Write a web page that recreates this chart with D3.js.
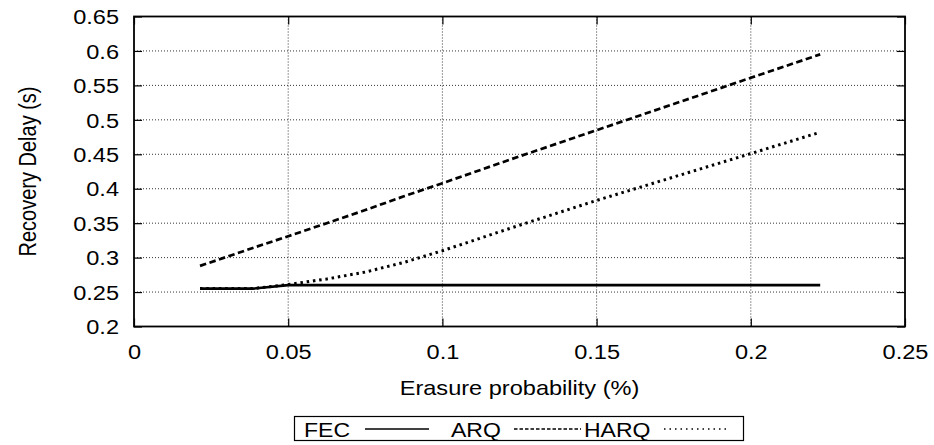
<!DOCTYPE html>
<html>
<head>
<meta charset="utf-8">
<script src="https://cdn.jsdelivr.net/npm/d3@7"></script>
<style>
    body { margin: 0; background: #fff; }
    text { font-family: "Liberation Sans", Arial, sans-serif; }
</style>
</head>
<body>
<svg id="chart" width="934" height="445"></svg>
<script>
//Datos
let erasure = [0.0214, 0.03, 0.0385, 0.05, 0.0625, 0.075, 0.0875, 0.1, 0.125, 0.15, 0.175, 0.2, 0.2225];
let fecDelay = [0.255, 0.255, 0.255, 0.26, 0.26, 0.26, 0.26, 0.26, 0.26, 0.26, 0.26, 0.26, 0.26];
let arqDelay = [0.288, 0.301, 0.314, 0.331, 0.35, 0.369, 0.389, 0.408, 0.447, 0.485, 0.523, 0.561, 0.595];
let harqDelay = [0.255, 0.255, 0.255, 0.261, 0.269, 0.279, 0.293, 0.31, 0.347, 0.383, 0.417, 0.451, 0.482];
let xTicks = [0, 0.05, 0.1, 0.15, 0.2, 0.25];
let yTicks = [0.2, 0.25, 0.3, 0.35, 0.4, 0.45, 0.5, 0.55, 0.6, 0.65];
let seriesNames = ['FEC', 'ARQ', 'HARQ'];

let series = [
    {name: seriesNames[0], values: fecDelay, dash: null, legendDash: null},
    {name: seriesNames[1], values: arqDelay, dash: '6.5,3.5', legendDash: '3.5,2'},
    {name: seriesNames[2], values: harqDelay, dash: '2.5,3.8', legendDash: '1.5,4'}
];

//Texto un poco ensanchado, como en la figura original
let sx = 1.15;
let fontSize = 20.5;

//Dimensiones
let margin = {top: 16.5, right: 29, bottom: 118.5, left: 134};
let width = 934 - margin.left - margin.right;
let height = 445 - margin.top - margin.bottom;

let svg = d3.select('#chart');
let g = svg.append('g').attr('transform', 'translate(' + margin.left + ',' + margin.top + ')');

let x = d3.scaleLinear().domain([0, 0.25]).range([0, width]);
let y = d3.scaleLinear().domain([0.2, 0.65]).range([height, 0]);

//Rejilla
g.append('g')
    .selectAll('line')
    .data(xTicks.slice(1, -1))
    .enter()
    .append('line')
    .attr('x1', d => x(d)).attr('x2', d => x(d))
    .attr('y1', 0).attr('y2', height)
    .attr('stroke', '#333')
    .attr('stroke-width', 1)
    .attr('stroke-dasharray', '1,2');

g.append('g')
    .selectAll('line')
    .data(yTicks.slice(1, -1))
    .enter()
    .append('line')
    .attr('x1', 0).attr('x2', width)
    .attr('y1', d => y(d)).attr('y2', d => y(d))
    .attr('stroke', '#333')
    .attr('stroke-width', 1)
    .attr('stroke-dasharray', '1,2');

//Ejes
let fmt = d => d3.format('')(+d.toFixed(2));

let xAxis = g.append('g')
    .attr('transform', 'translate(0,' + height + ')')
    .call(d3.axisBottom(x).tickValues(xTicks).tickSize(-8).tickFormat(fmt));
let xTop = g.append('g')
    .call(d3.axisTop(x).tickValues(xTicks).tickSize(-8).tickFormat(''));
let yAxis = g.append('g')
    .call(d3.axisLeft(y).tickValues(yTicks).tickSize(-8).tickFormat(fmt));
let yRight = g.append('g')
    .attr('transform', 'translate(' + width + ',0)')
    .call(d3.axisRight(y).tickValues(yTicks).tickSize(-8).tickFormat(''));

[xAxis, xTop, yAxis, yRight].forEach(a => {
    a.select('.domain').remove();
    a.selectAll('.tick line').attr('stroke', '#000').attr('stroke-width', 1.2);
    a.selectAll('text')
        .attr('fill', '#000')
        .style('font-size', fontSize + 'px')
        .style('font-family', '"Liberation Sans", Arial, sans-serif');
});

xAxis.selectAll('text')
    .attr('x', 0).attr('y', 33).attr('dy', 0)
    .attr('transform', 'scale(' + sx + ',1)');
yAxis.selectAll('text')
    .attr('x', -15 / sx).attr('dy', '0.35em')
    .attr('transform', 'scale(' + sx + ',1)');

g.append('rect')
    .attr('width', width).attr('height', height)
    .attr('fill', 'none')
    .attr('stroke', '#000')
    .attr('stroke-width', 1.8);

//Líneas
let line = d3.line()
    .x((d, i) => x(erasure[i]))
    .y(d => y(d));

g.selectAll('.serie')
    .data(series)
    .enter()
    .append('path')
    .attr('class', 'serie')
    .attr('d', d => line(d.values))
    .attr('fill', 'none')
    .attr('stroke', '#000')
    .attr('stroke-width', d => d.name == 'HARQ' ? 3 : 2.7)
    .attr('stroke-dasharray', d => d.dash);

//Títulos
svg.append('text')
    .attr('transform', 'translate(' + (margin.left + width / 2) + ',395) scale(' + sx + ',1)')
    .attr('text-anchor', 'middle')
    .style('font-size', fontSize + 'px')
    .text('Erasure probability (%)');

svg.append('text')
    .attr('transform', 'translate(36,' + (margin.top + height / 2) + ') scale(' + sx + ',1) rotate(-90)')
    .attr('text-anchor', 'middle')
    .style('font-size', '20px')
    .text('Recovery Delay (s)');

//Leyenda
let legend = svg.append('g');
legend.append('rect')
    .attr('x', 294.5).attr('y', 416.5)
    .attr('width', 449).attr('height', 24)
    .attr('fill', 'none')
    .attr('stroke', '#000')
    .attr('stroke-width', 1.2);

let legendPos = [
    {tx: 304, x1: 365, x2: 429},
    {tx: 451, x1: 514, x2: 581},
    {tx: 584, x1: 664, x2: 726}
];

series.forEach((s, i) => {
    legend.append('text')
        .attr('transform', 'translate(' + legendPos[i].tx + ',436.5) scale(' + sx + ',1)')
        .style('font-size', '20px')
        .text(s.name);
    legend.append('line')
        .attr('x1', legendPos[i].x1).attr('x2', legendPos[i].x2)
        .attr('y1', 429).attr('y2', 429)
        .attr('stroke', '#000')
        .attr('stroke-width', 1.6)
        .attr('stroke-dasharray', s.legendDash);
});
</script>
</body>
</html>
